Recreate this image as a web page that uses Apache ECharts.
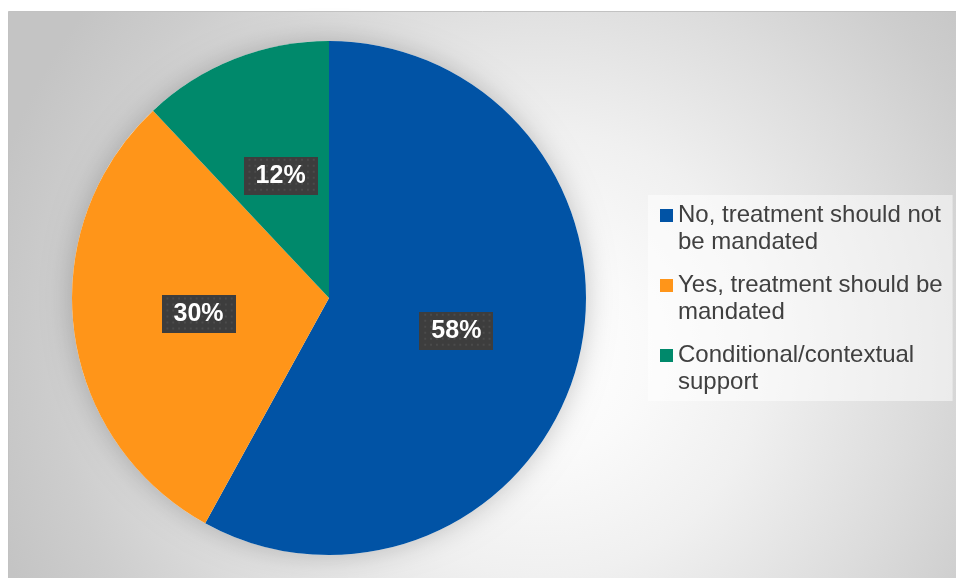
<!DOCTYPE html>
<html>
<head>
<meta charset="utf-8">
<title>Should treatment be mandated?</title>
<script src="https://cdn.jsdelivr.net/npm/echarts@6/dist/echarts.min.js"></script>
<style>
  html, body { margin: 0; padding: 0; background: #ffffff; }
  #chart { width: 956px; height: 578px; }
</style>
</head>
<body>
<div id="chart"></div>
<script>
// Survey responses
const categories = [
  'No, treatment should not be mandated',
  'Yes, treatment should be mandated',
  'Conditional/contextual support'
];
const shares = [58, 30, 12];
const sliceColors = ['#0153A5', '#FF9519', '#00896B'];

const FONT = '"Liberation Sans", Arial, sans-serif';
const LEGEND_FONT_SIZE = 24;
const LEGEND_TEXT_WIDTH = 270;

// Word-wrap a legend entry to the available width
const measureCtx = document.createElement('canvas').getContext('2d');
measureCtx.font = LEGEND_FONT_SIZE + 'px ' + FONT;
function wrapWords(text, maxWidth) {
  const words = text.split(' ');
  const lines = [];
  let line = '';
  words.forEach(w => {
    const trial = line ? line + ' ' + w : w;
    if (line && measureCtx.measureText(trial).width > maxWidth) {
      lines.push(line);
      line = w;
    } else {
      line = trial;
    }
  });
  if (line) lines.push(line);
  return lines.join('\n');
}

// Dark dotted texture for the value badges
function badgeTexture(w, h) {
  const c = document.createElement('canvas');
  c.width = w; c.height = h;
  const g = c.getContext('2d');
  g.fillStyle = '#3d3d3d';
  g.fillRect(0, 0, w, h);
  g.fillStyle = '#4b4b4b';
  for (let y = 2; y < h; y += 6) {
    for (let x = ((y / 6) % 2 ? 5 : 2); x < w; x += 6) {
      g.fillRect(x, y, 2, 2);
    }
  }
  return c;
}
const texture = badgeTexture(76, 38);

const chart = echarts.init(document.getElementById('chart'), null, { renderer: 'canvas' });

const bg = new echarts.graphic.RadialGradient(0.56, 0.6, 1, [
  { offset: 0, color: '#ffffff' },
  { offset: 0.18, color: '#fafafa' },
  { offset: 0.39, color: '#f0f0f0' },
  { offset: 0.66, color: '#dcdcdc' },
  { offset: 0.85, color: '#cdcdcd' },
  { offset: 1, color: '#c4c4c4' }
]);

chart.setOption({
  animation: false,
  textStyle: { fontFamily: FONT },
  graphic: [{
    type: 'rect',
    z: -10,
    silent: true,
    shape: { x: 8.5, y: 11.5, width: 950, height: 570 },
    style: { fill: bg, stroke: '#c2c2c2', lineWidth: 1 }
  }],
  legend: {
    orient: 'vertical',
    left: 648,
    top: 195,
    padding: [7, 10, 5, 12],
    backgroundColor: 'rgba(255,255,255,0.5)',
    data: categories,
    formatter: name => wrapWords(name, LEGEND_TEXT_WIDTH),
    icon: 'path://M0,7h13v13h-13z M0,0h0.01v0.01h-0.01z M13,54h-0.01v-0.01h0.01z',
    itemWidth: 13,
    itemHeight: 54,
    itemGap: 16,
    selectedMode: false,
    textStyle: {
      fontFamily: FONT,
      fontSize: LEGEND_FONT_SIZE,
      lineHeight: 27,
      color: '#404040'
    }
  },
  series: [
    {
      // soft shadow beneath the pie
      type: 'pie',
      silent: true,
      center: [329, 298],
      radius: 257,
      z: 1,
      label: { show: false },
      labelLine: { show: false },
      itemStyle: {
        color: '#ffffff',
        shadowBlur: 28,
        shadowColor: 'rgba(0,0,0,0.22)'
      },
      data: [{ value: 1, name: '' }]
    },
    {
      type: 'pie',
      center: [329, 298],
      radius: 257,
      startAngle: 90,
      clockwise: true,
      z: 2,
      itemStyle: { borderWidth: 0 },
      label: {
        show: true,
        position: 'inside',
        formatter: p => p.value + '%',
        fontFamily: FONT,
        fontWeight: 'bold',
        fontSize: 25,
        lineHeight: 26,
        color: '#ffffff',
        backgroundColor: { image: texture },
        padding: [6, 12],
        shadowColor: 'rgba(0,0,0,0.55)',
        shadowBlur: 5,
        shadowOffsetX: 3,
        shadowOffsetY: 3
      },
      labelLine: { show: false },
      data: categories.map((name, i) => ({
        name: name,
        value: shares[i],
        itemStyle: { color: sliceColors[i] }
      }))
    }
  ]
});
</script>
</body>
</html>
